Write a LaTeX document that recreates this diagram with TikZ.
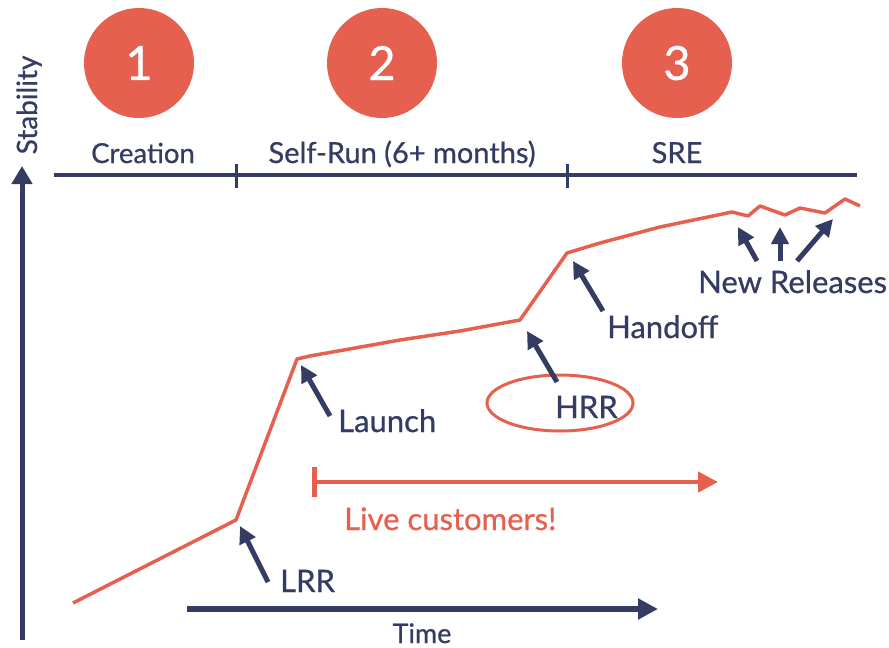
\documentclass[tikz,border=0pt]{standalone}
\usepackage{fontspec}
\setmainfont{Lato}[FakeBold=0.7]
\usetikzlibrary{arrows.meta,shapes.geometric}
\definecolor{cred}{HTML}{E5604F}
\definecolor{cnavy}{HTML}{353C63}
\begin{document}
\begin{tikzpicture}[x=1pt,y=-1pt,
  phase/.style={circle,fill=cred,minimum size=110pt,inner sep=0pt,text=white,font=\fontsize{47}{47}\selectfont},
  lbl/.style={text=cnavy,font=\fontsize{27.5}{27.5}\selectfont,inner sep=0pt},
  big/.style={text=cnavy,font=\fontsize{31}{31}\selectfont,inner sep=0pt},
  pointer/.style={draw=cnavy,line width=5pt,-{Triangle[length=17pt,width=17pt]}},
  curve/.style={draw=cred,line width=3.5pt,line join=round},
]
\useasboundingbox (0,0) rectangle (889,648);
% phase circles
\node[phase] (p1) at (139,63) {1};
\node[phase] (p2) at (382,63) {2};
\node[phase] (p3) at (677,63) {3};
% phase labels
\node[lbl,anchor=base] (creation) at (143,163) {Creation};
\node[lbl,anchor=base,font=\fontsize{29}{29}\selectfont] (selfrun) at (402,163) {Self-Run (6+ months)};
\node[lbl,anchor=base,font=\fontsize{29}{29}\selectfont] (sre) at (677,163) {SRE};
% timeline
\coordinate (tl0) at (54,175);
\coordinate (tl1) at (857,175);
\draw[cnavy,line width=4pt] (tl0) -- (tl1);
\coordinate (tk1a) at (236,164); \coordinate (tk1b) at (236,188);
\coordinate (tk2a) at (567,164); \coordinate (tk2b) at (567,188);
\draw[cnavy,line width=3pt] (tk1a) -- (tk1b);
\draw[cnavy,line width=3pt] (tk2a) -- (tk2b);
% y axis
\coordinate (ya0) at (22,640);
\coordinate (ya1) at (22,166);
\draw[cnavy,line width=5pt,-{Triangle[length=18pt,width=20pt]}] (ya0) -- (ya1);
\node[lbl,rotate=90,anchor=base,font=\fontsize{28}{28}\selectfont] (stab) at (37,105) {Stability};
% stability curve
\coordinate (c0) at (73,603);
\coordinate (lrr) at (236,520);
\coordinate (launch) at (297,359);
\coordinate (hrr) at (520,320);
\coordinate (handoff) at (567,253);
\coordinate (r0) at (732,212);
\coordinate (r1) at (748,216);
\coordinate (r2) at (760,206);
\coordinate (r3) at (785,215);
\coordinate (r4) at (800,208);
\coordinate (r5) at (825,213);
\coordinate (r6) at (845,199);
\coordinate (r7) at (860,206);
\draw[curve] (c0) -- (lrr) -- (launch) -- (310,356) -- (400,340) -- (460,331) -- (hrr) -- (handoff) -- (600,243) -- (660,227) -- (r0) -- (r1) -- (r2) -- (r3) -- (r4) -- (r5) -- (r6) -- (r7);
% labels with pointers
\node[big,anchor=base west] (tlrr) at (280,592) {LRR};
\coordinate (alrr0) at (268,582); \coordinate (alrr1) at (240,526);
\draw[pointer] (alrr0) -- (alrr1);

\node[big,anchor=base west] (tlaunch) at (338,432) {Launch};
\coordinate (ala0) at (330,416); \coordinate (ala1) at (301,365);
\draw[pointer] (ala0) -- (ala1);

\node[draw=cred,line width=3pt,ellipse,minimum width=146pt,minimum height=56pt] (ell) at (560,403) {};
\node[big,anchor=base west] (thrr) at (555,418) {HRR};
\coordinate (ah0) at (557,382); \coordinate (ah1) at (527,331);
\draw[pointer] (ah0) -- (ah1);

\node[big,anchor=base west] (thand) at (607,338) {Handoff};
\coordinate (ahd0) at (603,311); \coordinate (ahd1) at (573,261);
\draw[pointer] (ahd0) -- (ahd1);

\node[big,anchor=base west] (tnew) at (698,293) {New Releases};
\coordinate (an10) at (757,261); \coordinate (an11) at (738,227);
\coordinate (an20) at (780,261); \coordinate (an21) at (780,227);
\coordinate (an30) at (797,261); \coordinate (an31) at (833,219);
\draw[pointer] (an10) -- (an11);
\draw[pointer] (an20) -- (an21);
\draw[pointer] (an30) -- (an31);
% live customers
\coordinate (lc0) at (312,482); \coordinate (lc1) at (718,482);
\draw[cred,line width=4.5pt,{Bar[width=30pt,line width=4.5pt]}-{Triangle[length=20pt,width=20pt]}] (lc0) -- (lc1);
\node[lbl,text=cred,anchor=base west,font=\fontsize{31}{31}\selectfont] (tlive) at (344,530) {Live customers!};
% time
\coordinate (t0) at (187,609); \coordinate (t1) at (658,609);
\draw[cnavy,line width=5.5pt,-{Triangle[length=20pt,width=20pt]}] (t0) -- (t1);
\node[lbl,anchor=base,font=\fontsize{27}{27}\selectfont] (ttime) at (422,643) {Time};
\end{tikzpicture}
\end{document}
